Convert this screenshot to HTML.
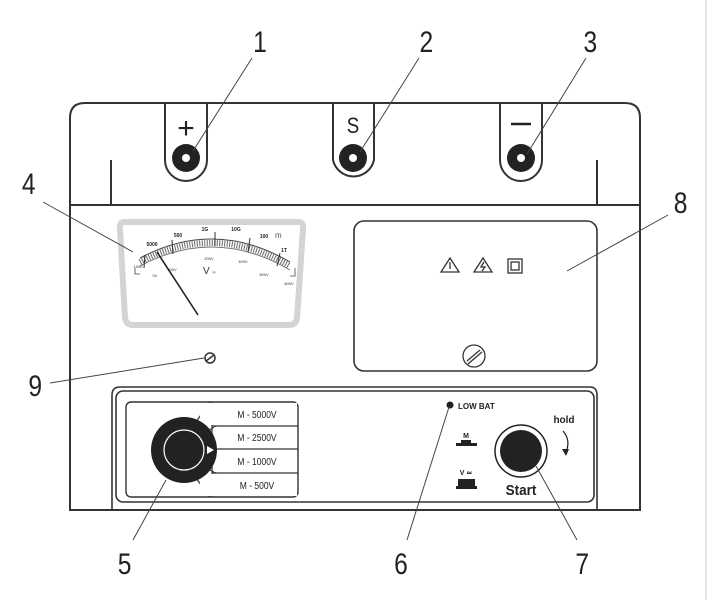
<!DOCTYPE html>
<html><head><meta charset="utf-8"><style>
html,body{margin:0;padding:0;background:#fff;}
svg{display:block;}
text{font-family:"Liberation Sans",sans-serif;}
</style></head><body>
<svg width="708" height="600" viewBox="0 0 708 600" xmlns="http://www.w3.org/2000/svg">
<line x1="706" y1="0" x2="706" y2="600" stroke="#ccc" stroke-width="1"/>
<!-- case -->
<path d="M70,510 L70,118 Q70,103 85,103 L625,103 Q640,103 640,118 L640,510 Z" fill="none" stroke="#333" stroke-width="2"/>
<line x1="70" y1="205" x2="640" y2="205" stroke="#333" stroke-width="2"/>
<line x1="111" y1="160" x2="111" y2="205" stroke="#333" stroke-width="2"/>
<line x1="597" y1="160" x2="597" y2="205" stroke="#333" stroke-width="2"/>
<!-- tabs -->
<g fill="none" stroke="#333" stroke-width="2">
<path d="M165,103 L165,160 A21,21 0 0 0 207,160 L207,103"/>
<path d="M333,103 L333,160 A21,21 0 0 0 374,160 L374,103"/>
<path d="M500,103 L500,160 A21,21 0 0 0 542,160 L542,103"/>
</g>
<g fill="#222"><circle cx="186" cy="158" r="14"/><circle cx="353" cy="158" r="14"/><circle cx="521" cy="158" r="14"/></g>
<g fill="#fff"><circle cx="186" cy="158" r="4"/><circle cx="353" cy="158" r="4"/><circle cx="521" cy="158" r="4"/></g>
<text x="186" y="138" font-size="30" text-anchor="middle" fill="#222">+</text>
<text x="353" y="133" font-size="22" text-anchor="middle" fill="#222" transform="translate(353 0) scale(0.85 1) translate(-353 0)">S</text>
<line x1="511" y1="124" x2="531" y2="124" stroke="#222" stroke-width="2.5"/>
<!-- meter -->
<path d="M124,222 L298,222 Q304,222 303,229 L297,318 Q296,325 289,325 L133,325 Q126,325 125,318 L120,229 Q119,222 124,222 Z" fill="none" stroke="#d4d4d4" stroke-width="6"/>
<path d="M140,262 Q215,222 290,266" fill="none" stroke="#666" stroke-width="6" stroke-dasharray="1 1.5"/>
<path d="M140,258 Q215,218 290,262" fill="none" stroke="#444" stroke-width="1"/>
<path d="M140,266 Q215,226 290,270" fill="none" stroke="#777" stroke-width="1"/>
<g stroke="#333" stroke-width="1">
<line x1="145" y1="255" x2="144" y2="268"/><line x1="172" y1="240" x2="173" y2="254"/><line x1="215" y1="232" x2="215" y2="246"/><line x1="250" y1="238" x2="248" y2="252"/><line x1="280" y1="253" x2="277" y2="266"/>
</g>
<g font-size="5" fill="#222" text-anchor="middle" font-weight="bold">
<text x="152" y="246">5000</text><text x="178" y="237">500</text><text x="205" y="231">1G</text><text x="236" y="231">10G</text><text x="264" y="238">100</text><text x="284" y="252">1T</text>
</g>
<g font-size="4" fill="#333" text-anchor="middle">
<text x="172" y="271">100V</text><text x="209" y="260">200V</text><text x="243" y="263">400V</text><text x="264" y="276">500V</text><text x="289" y="285">600V</text><text x="155" y="277">0V</text><text x="138" y="268">1000</text>
</g>
<path d="M135,268 L135,274 L140,274" fill="none" stroke="#444" stroke-width="0.8"/>
<path d="M295,268 L295,276 L290,276" fill="none" stroke="#444" stroke-width="0.8"/>
<text x="275" y="238" font-size="8" fill="#555">m</text>
<text x="203" y="274" font-size="10" fill="#333">V</text><text x="212" y="274" font-size="5" fill="#555">≃</text>
<line x1="157" y1="252" x2="198" y2="315" stroke="#222" stroke-width="1.6"/>
<!-- right panel -->
<rect x="354" y="221" width="243" height="150" rx="10" fill="none" stroke="#333" stroke-width="1.6"/>
<g fill="none" stroke="#333" stroke-width="1.3">
<path d="M450,258 L441,272 L459,272 Z"/><line x1="450" y1="262" x2="450" y2="269"/>
<path d="M483,258 L474,272 L492,272 Z"/><path d="M484,262 L481,267 L485,267 L482,271"/>
<rect x="508" y="259" width="14" height="14"/><rect x="511" y="262" width="8" height="8"/>
<circle cx="474" cy="356" r="11"/><line x1="467" y1="361" x2="480" y2="350"/><line x1="468" y1="364" x2="482" y2="352"/>
</g>
<!-- screw 9 -->
<circle cx="210" cy="358" r="5" fill="none" stroke="#333" stroke-width="1.5"/>
<line x1="206" y1="361" x2="214" y2="355" stroke="#333" stroke-width="1.5"/>
<!-- bottom panel -->
<path d="M112,510 L112,395 Q112,387 120,387 L590,387 Q597,387 597,395 L597,510" fill="none" stroke="#333" stroke-width="1.6"/>
<rect x="116" y="391" width="478" height="111" rx="7" fill="none" stroke="#333" stroke-width="1.6"/>
<rect x="126" y="402" width="172" height="95" rx="5" fill="none" stroke="#333" stroke-width="1.4"/>
<g fill="none" stroke="#333" stroke-width="1.2">
<line x1="212" y1="402" x2="212" y2="497"/>
<line x1="212" y1="426" x2="298" y2="426"/><line x1="212" y1="449" x2="298" y2="449"/><line x1="212" y1="473" x2="298" y2="473"/>
<line x1="196" y1="422" x2="210" y2="402"/><line x1="206" y1="432" x2="216" y2="426"/><line x1="206" y1="468" x2="216" y2="473"/><line x1="196" y1="478" x2="210" y2="497"/>
</g>
<rect x="200" y="403" width="97" height="22" fill="#fff"/><rect x="214" y="427" width="83" height="21" fill="#fff"/><rect x="214" y="450" width="83" height="22" fill="#fff"/><rect x="200" y="474" width="97" height="22" fill="#fff"/>
<g font-size="10" fill="#222" text-anchor="middle" transform="translate(257 0) scale(0.85 1) translate(-257 0)">
<text x="257" y="418">M - 5000V</text><text x="257" y="441">M - 2500V</text><text x="257" y="465">M - 1000V</text><text x="257" y="489">M - 500V</text>
</g>
<circle cx="184" cy="450" r="33" fill="#222"/>
<circle cx="184" cy="450" r="20" fill="#222" stroke="#fff" stroke-width="1.2"/>
<path d="M207,446 L214,450 L207,454 Z" fill="#fff"/>
<circle cx="450" cy="405" r="3.5" fill="#222"/>
<text x="458" y="409" font-size="8" font-weight="bold" fill="#222">LOW BAT</text>
<text x="466" y="438" font-size="7" font-weight="bold" fill="#222" text-anchor="middle">M</text>
<rect x="461" y="440" width="10" height="3" fill="#222"/><rect x="456" y="443" width="21" height="3" fill="#222"/>
<text x="466" y="475" font-size="7" font-weight="bold" fill="#222" text-anchor="middle">V ≃</text>
<rect x="458" y="479" width="17" height="9" fill="#222"/><rect x="456" y="486" width="21" height="3" fill="#222"/>
<circle cx="521" cy="451" r="26" fill="none" stroke="#222" stroke-width="1.5"/>
<circle cx="521" cy="451" r="21" fill="#222"/>
<text x="521" y="495" font-size="15" font-weight="bold" fill="#222" text-anchor="middle" transform="translate(521 0) scale(0.9 1) translate(-521 0)">Start</text>
<text x="564" y="423" font-size="10" font-weight="bold" fill="#222" text-anchor="middle">hold</text>
<path d="M563,431 Q571,440 566,452" fill="none" stroke="#222" stroke-width="1.2"/>
<path d="M562,449 L566,456 L569,449 Z" fill="#222"/>
<!-- leaders -->
<g stroke="#444" stroke-width="1">
<line x1="252" y1="58" x2="193" y2="151"/>
<line x1="419" y1="58" x2="360" y2="152"/>
<line x1="586" y1="58" x2="527" y2="154"/>
<line x1="43" y1="202" x2="133" y2="252"/>
<line x1="668" y1="215" x2="567" y2="271"/>
<line x1="50" y1="383" x2="204" y2="358"/>
<line x1="133" y1="540" x2="166" y2="480"/>
<line x1="407" y1="540" x2="449" y2="407"/>
<line x1="577" y1="540" x2="536" y2="466"/>
</g>
<g font-size="30" fill="#222" text-anchor="middle" transform="scale(0.82,1)">
<text x="317" y="52">1</text><text x="520" y="52">2</text><text x="720" y="52">3</text>
<text x="35" y="194">4</text><text x="830" y="213">8</text><text x="43" y="396">9</text>
<text x="152" y="574">5</text><text x="489" y="574">6</text><text x="710" y="574">7</text>
</g>
</svg>
</body></html>
